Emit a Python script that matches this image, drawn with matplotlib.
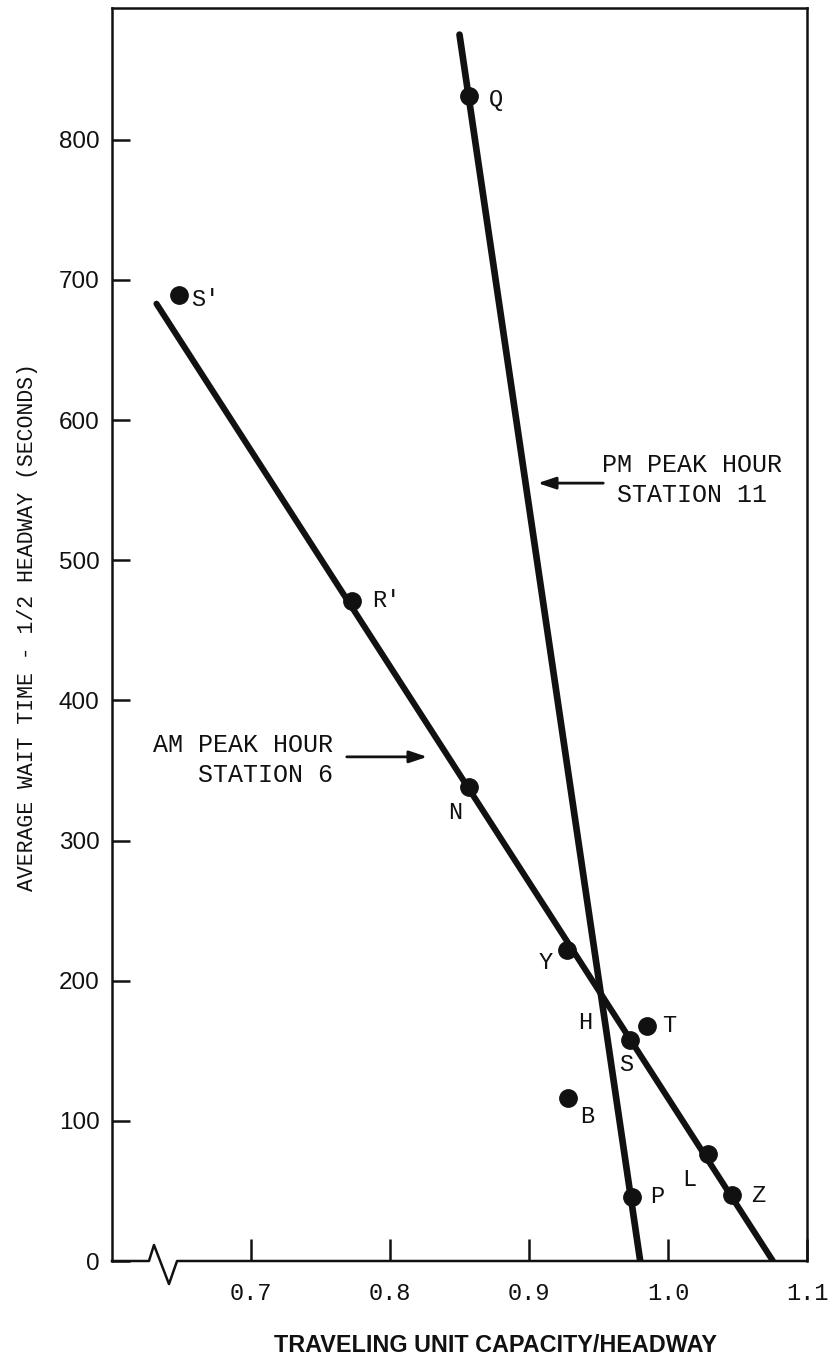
import matplotlib.pyplot as plt
from matplotlib.transforms import blended_transform_factory
import numpy as np

# observed points (traveling unit capacity / headway, wait time in seconds)
point_names = ["Q", "S'", "R'", "N", "Y", "T", "S", "B", "L", "P", "Z"]
capacity = [0.857, 0.648, 0.773, 0.857, 0.927, 0.985, 0.973, 0.928, 1.029, 0.974, 1.046]
wait_time = [831, 689, 471, 338, 222, 168, 158, 116, 76, 46, 47]

# fitted lines, end points as drawn
am_line_x = [0.632, 1.0755]
am_line_y = [683, 0]
pm_line_x = [0.850, 0.980]
pm_line_y = [875, 0]

x_ticks = [0.7, 0.8, 0.9, 1.0, 1.1]
x_ticklabels = ["0.7", "0.8", "0.9", "1.0", "1.1"]
y_ticks = [0, 100, 200, 300, 400, 500, 600, 700, 800]

# label offsets in points (dx, dy, ha)
label_offsets = {
    "Q": (19, -2, "center"), "S'": (9, -3, "left"), "R'": (14, 0, "left"),
    "N": (-10, -18, "center"), "Y": (-15, -9, "center"), "T": (16, 0, "center"),
    "S": (-3, -18, "center"), "B": (14, -13, "center"), "L": (-14, -18, "center"),
    "P": (18, 0, "center"), "Z": (19, 0, "center"),
}

MONO = "Liberation Mono"
INK = "#111111"
W, H = 833, 1361

fig = plt.figure(figsize=(W / 100, H / 100), dpi=100)
ax = fig.add_axes([112 / W, 1 - 1261 / H, 695 / W, 1253 / H])
ax.set_xlim(0.6, 1.1)
ax.set_ylim(0, 894)

# lines and points
ax.plot(am_line_x, am_line_y, color=INK, lw=4.4, solid_capstyle="round", zorder=2)
ax.plot(pm_line_x, pm_line_y, color=INK, lw=4.8, solid_capstyle="round", zorder=2)
ax.plot(capacity, wait_time, "o", color=INK, ms=12.5, zorder=3)

for name, x, y in zip(point_names, capacity, wait_time):
    dx, dy, ha = label_offsets[name]
    ax.annotate(name, (x, y), xytext=(dx, dy), textcoords="offset points",
                ha=ha, va="center", family=MONO, fontsize=17, color=INK)

# intersection label H
a1 = np.polyfit(am_line_x, am_line_y, 1)
a2 = np.polyfit(pm_line_x, pm_line_y, 1)
hx = (a2[1] - a1[1]) / (a1[0] - a2[0])
hy = np.polyval(a1, hx)
ax.annotate("H", (hx, hy), xytext=(-11, -21), textcoords="offset points",
            ha="center", va="center", family=MONO, fontsize=17, color=INK)

# annotations with arrows
ax.annotate("", xy=(0.9043, 555), xytext=(0.9554, 555),
            arrowprops=dict(arrowstyle="-|>,head_length=0.6,head_width=0.2",
                            color=INK, lw=2, mutation_scale=18))
ax.text(1.0173, 557, "PM PEAK HOUR\nSTATION 11", ha="center", va="center",
        family=MONO, fontsize=18, linespacing=1.3, color=INK)
ax.annotate("", xy=(0.8288, 359.7), xytext=(0.7669, 359.7),
            arrowprops=dict(arrowstyle="-|>,head_length=0.6,head_width=0.2",
                            color=INK, lw=2, mutation_scale=18))
ax.text(0.759, 357.6, "AM PEAK HOUR\nSTATION 6", ha="right", va="center",
        family=MONO, fontsize=18, linespacing=1.3, color=INK, multialignment="right")

# axes styling
for side in ["left", "top", "right"]:
    ax.spines[side].set_linewidth(1.8)
    ax.spines[side].set_color(INK)
ax.spines["bottom"].set_visible(False)

# bottom axis with break mark
trans = blended_transform_factory(ax.transData, ax.transAxes)
bx = [0.6, 0.6266, 0.6302, 0.6410, 0.6468, 1.1]
by = [0, 0, 0.0128, -0.0184, 0, 0]
ax.plot(bx, by, color=INK, lw=1.8, transform=trans, clip_on=False, zorder=4)

ax.set_xticks(x_ticks)
ax.set_xticklabels(x_ticklabels, family=MONO, fontsize=17)
ax.set_yticks(y_ticks)
ax.set_yticklabels([str(v) for v in y_ticks], family="Liberation Sans", fontsize=17.5)
ax.tick_params(axis="x", direction="in", length=16, width=1.8, pad=15, colors=INK)
ax.tick_params(axis="y", direction="in", length=13, width=1.8, pad=9, colors=INK)

fig.text(28 / W, 1 - 627 / H, "AVERAGE WAIT TIME - 1/2 HEADWAY (SECONDS)", rotation=90,
         ha="center", va="center", family=MONO, fontsize=15.5, color=INK)
fig.text(496 / W, 1 - 1346 / H, "TRAVELING UNIT CAPACITY/HEADWAY", ha="center", va="center",
         family="Liberation Sans", fontweight="bold", fontsize=16.8, color=INK)

fig.savefig("out.png", dpi=100)
